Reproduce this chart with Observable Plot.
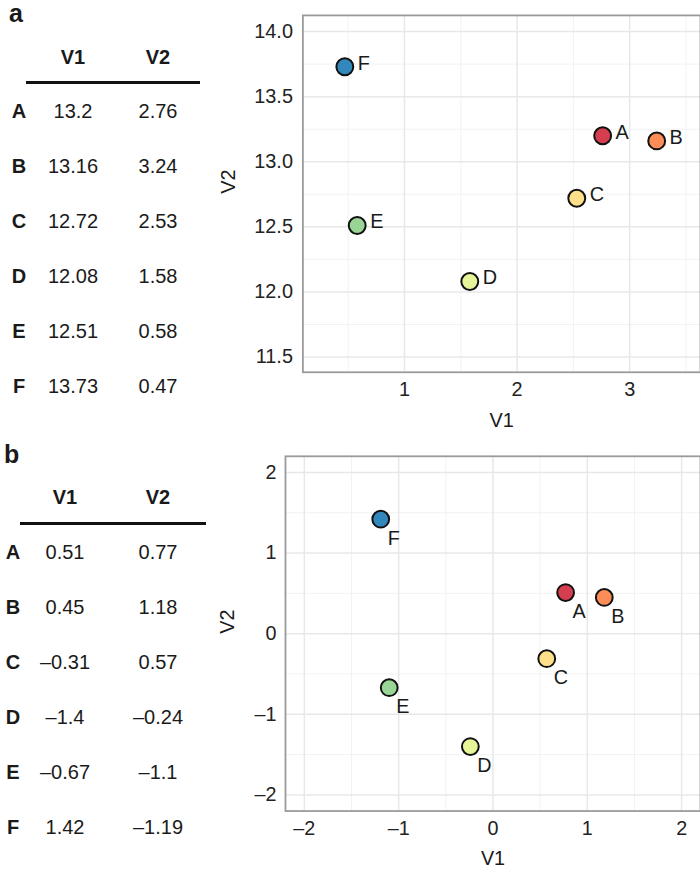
<!DOCTYPE html>
<html><head><meta charset="utf-8">
<script src="https://cdn.jsdelivr.net/npm/d3@7"></script>
<script src="https://cdn.jsdelivr.net/npm/@observablehq/plot@0.6"></script>
<style>
html,body{margin:0;padding:0;background:#fff;}
#page{position:relative;width:700px;height:876px;overflow:hidden;font-family:"Liberation Sans",Arial,Helvetica,sans-serif;color:#1a1a1a;}
.t{position:absolute;transform:translate(-50%,-50%);white-space:nowrap;font-size:20px;line-height:1;}
.b{font-weight:bold;}
.rule{position:absolute;background:#111;height:3px;}
.panel{position:absolute;overflow:hidden;}
.tag{position:absolute;font-weight:bold;font-size:25px;line-height:1;}
</style></head><body><div id="page"></div>
<script>
// ---- data ----
const names = ["A","B","C","D","E","F"];
const colors = ["#D53E4F","#FC8D59","#FEE08B","#E6F598","#99D594","#3288BD"];
const headers = ["V1","V2"];
// panel a table columns
const aV1 = [13.2, 13.16, 12.72, 12.08, 12.51, 13.73];
const aV2 = [2.76, 3.24, 2.53, 1.58, 0.58, 0.47];
// panel b table columns
const bV1 = [0.51, 0.45, -0.31, -1.4, -0.67, 1.42];
const bV2 = [0.77, 1.18, 0.57, -0.24, -1.1, -1.19];
// ticks
const aXTicks = [1, 2, 3];
const aYTicks = [11.5, 12, 12.5, 13, 13.5, 14];
const aXMinor = [0.5, 1.5, 2.5, 3.5];
const aYMinor = [11.75, 12.25, 12.75, 13.25, 13.75];
const bXTicks = [-2, -1, 0, 1, 2];
const bYTicks = [-2, -1, 0, 1, 2];
const bXMinor = [-1.5, -0.5, 0.5, 1.5];
const bYMinor = [-1.5, -0.5, 0.5, 1.5];

const FONT = '"Liberation Sans", Arial, Helvetica, sans-serif';
const FS = 20;
const page = document.getElementById("page");
const fmtNum = v => String(v).replace("-", "\u2013");

function addText(txt, x, y, cls) {
  const d = document.createElement("div");
  d.className = "t " + (cls || "");
  d.style.left = x + "px"; d.style.top = y + "px";
  d.textContent = txt;
  page.appendChild(d);
}
function addTable(o) {
  const tag = document.createElement("div");
  tag.className = "tag"; tag.textContent = o.tag;
  tag.style.left = o.tagX + "px"; tag.style.top = o.tagY + "px";
  page.appendChild(tag);
  addText(headers[0], o.c1, o.hy, "b");
  addText(headers[1], o.c2, o.hy, "b");
  const r = document.createElement("div");
  r.className = "rule";
  r.style.left = o.r0 + "px"; r.style.width = (o.r1 - o.r0) + "px"; r.style.top = (o.ry - 1.5) + "px";
  page.appendChild(r);
  names.forEach((n, i) => {
    const y = o.y0 + o.dy * i;
    addText(n, o.c0, y, "b");
    addText(fmtNum(o.v1[i]), o.c1, y);
    addText(fmtNum(o.v2[i]), o.c2, y);
  });
}

addTable({tag:"a", tagX:9, tagY:1, v1:aV1, v2:aV2, c0:19, c1:73, c2:158, hy:57, ry:82, r0:26, r1:200, y0:111, dy:55});
addTable({tag:"b", tagX:4, tagY:442, v1:bV1, v2:bV2, c0:13, c1:65, c2:158, hy:497, ry:523, r0:20, r1:206, y0:552, dy:55});

function scatter(o) {
  const data = names.map((n, i) => ({n, x: o.xv[i], y: o.yv[i], c: colors[i]}));
  return Plot.plot({
    width: o.width, height: o.height,
    marginLeft: o.mL, marginTop: o.mT, marginBottom: o.mB, marginRight: 0,
    style: {fontFamily: FONT, fontSize: FS + "px", color: "#222", background: "transparent"},
    x: {domain: o.xDomain},
    y: {domain: o.yDomain},
    color: {type: "identity"},
    marks: [
      Plot.ruleX(o.xMinor, {stroke: "#f2f2f2", strokeWidth: 1}),
      Plot.ruleY(o.yMinor, {stroke: "#f2f2f2", strokeWidth: 1}),
      Plot.ruleX(o.xTicks, {stroke: "#e8e8e8", strokeWidth: 1.5}),
      Plot.ruleY(o.yTicks, {stroke: "#e8e8e8", strokeWidth: 1.5}),
      Plot.frame({stroke: "#9a9a9a", strokeWidth: 1.8}),
      Plot.axisX(o.xTicks, {tickSize: 0, tickPadding: o.xPad, tickFormat: o.xFmt, label: null, fontSize: FS}),
      Plot.axisY(o.yTicks, {tickSize: 0, tickPadding: o.yPad, tickFormat: o.yFmt, label: null, fontSize: FS}),
      Plot.dot(data, {x: "x", y: "y", r: 8.5, fill: "c", stroke: "#111", strokeWidth: 2}),
      Plot.text(data, {x: "x", y: "y", text: "n", textAnchor: "start", dx: o.ldx, dy: o.ldy, fontSize: FS, fill: "#1a1a1a"}),
      Plot.text(["V1"], {frameAnchor: "bottom", text: d => d, dy: o.xtDy, lineAnchor: "middle", fontSize: FS, fill: "#1a1a1a"}),
      Plot.text(["V2"], {frameAnchor: "left", text: d => d, dx: o.ytDx, rotate: -90, fontSize: FS, fill: "#1a1a1a"})
    ]
  });
}
function addPanel(svg, left, top, w, h) {
  const d = document.createElement("div");
  d.className = "panel";
  d.style.left = left + "px"; d.style.top = top + "px";
  d.style.width = w + "px"; d.style.height = h + "px";
  d.appendChild(svg);
  page.appendChild(d);
}

const minus = d => String(d).replace("-", "\u2013");

addPanel(scatter({
  xv: aV2, yv: aV1, width: 503, height: 440, mL: 103, mT: 15, mB: 66,
  xDomain: [0.0975, 3.629], yDomain: [11.383, 14.124],
  xTicks: aXTicks, yTicks: aYTicks, xMinor: aXMinor, yMinor: aYMinor,
  xFmt: d => String(d), yFmt: d3.format(".1f"), xPad: 10, yPad: 10,
  ldx: 13, ldy: -3.5, xtDy: 49, ytDx: -75
}), 200, 0, 500, 440);

addPanel(scatter({
  xv: bV2, yv: bV1, width: 506, height: 436, mL: 86, mT: 16, mB: 61,
  xDomain: [-2.2, 2.2], yDomain: [-2.2, 2.2],
  xTicks: bXTicks, yTicks: bYTicks, xMinor: bXMinor, yMinor: bYMinor,
  xFmt: minus, yFmt: minus, xPad: 10, yPad: 9,
  ldx: 7, ldy: 19.5, xtDy: 48, ytDx: -58
}), 200, 440, 500, 436);
</script></body></html>
